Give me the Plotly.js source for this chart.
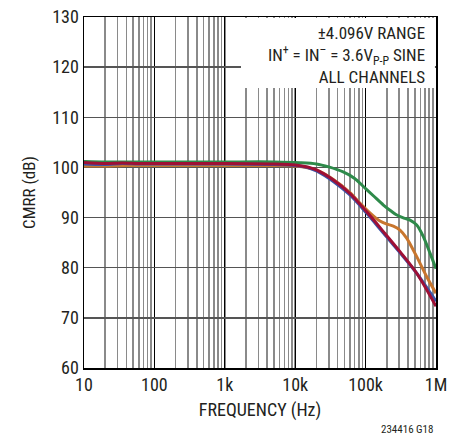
<!DOCTYPE html>
<html>
<head>
<meta charset="utf-8">
<script src="https://cdn.plot.ly/plotly-3.0.1.min.js"></script>
<style>
  html, body { margin: 0; padding: 0; background: #fff; }
  #chart { width: 460px; height: 436px; }
</style>
</head>
<body>
<div id="chart"></div>
<script>
// ---- data ----
const tickVals = [10, 100, 1000, 10000, 100000, 1000000];
const tickText = ["10", "100", "1k", "10k", "100k", "1M"];
const noteLines = ['±4.096V RANGE', 'IN<sup>+</sup> = IN<sup>–</sup> = 3.6V<sub>P-P</sub> SINE', 'ALL CHANNELS'];

const greenFreq = [10, 20, 40, 100, 1000, 5000, 11700, 20000, 30000, 48000, 70000, 93000, 130000, 179000, 230000, 277000, 350000, 428000, 532000, 661000, 822000, 1000000];
const greenCmrr = [101.2, 101.1, 101.1, 101.1, 101.1, 101.1, 100.95, 100.7, 100.1, 99.1, 97.8, 96.2, 94.3, 92.5, 91.3, 90.5, 89.9, 89.5, 88.5, 86.2, 82.9, 79.8];

const redFreq = [10, 20, 35, 60, 100, 1000, 5000, 10000, 15000, 20000, 34800, 60000, 103000, 179000, 308000, 532000, 1000000];
const redCmrr = [101.0, 100.8, 100.9, 100.8, 100.8, 100.8, 100.7, 100.5, 100.1, 99.5, 97.5, 94.8, 91.2, 87.2, 83.2, 78.9, 72.3];

const blueFreq = [10, 20, 35, 60, 100, 1000, 5000, 10000, 15000, 20000, 34800, 60000, 103000, 179000, 308000, 532000, 1000000];
const blueCmrr = [100.7, 100.6, 100.8, 100.7, 100.7, 100.7, 100.6, 100.4, 100.0, 99.3, 97.2, 94.5, 90.9, 86.9, 83.0, 78.9, 73.3];

const orangeFreq = [10, 20, 40, 100, 1000, 5000, 10000, 20000, 34800, 60000, 83000, 116000, 160000, 200000, 248000, 308000, 383000, 532000, 738000, 1000000];
const orangeCmrr = [100.3, 100.3, 100.4, 100.4, 100.4, 100.4, 100.3, 99.5, 97.6, 95.0, 92.9, 90.9, 89.3, 88.7, 88.3, 87.5, 85.9, 82.2, 78.2, 74.9];

const FONT = "'Liberation Sans Narrow', 'Arial Narrow', 'Roboto Condensed', 'Liberation Sans', sans-serif";
const INK = '#231f20';

function line(x, y, color) {
  return { x: x, y: y, type: 'scatter', mode: 'lines',
           line: { color: color, width: 3, shape: 'spline', smoothing: 0.8 },
           hoverinfo: 'skip', showlegend: false };
}

const data = [
  line(orangeFreq, orangeCmrr, '#c8762e'),
  line(greenFreq, greenCmrr, '#2e8a4a'),
  line(blueFreq, blueCmrr, '#3a55a8'),
  line(redFreq, redCmrr, '#9e1035')
];

const layout = {
  width: 460, height: 436,
  margin: { l: 84, r: 24, t: 17, b: 68, pad: 0 },
  paper_bgcolor: '#fff', plot_bgcolor: '#fff',
  font: { family: FONT, size: 18, color: INK },
  xaxis: {
    type: 'log', range: [1, 6],
    tickvals: tickVals, ticktext: tickText,
    ticks: '', showline: true, mirror: true, linecolor: '#000', linewidth: 1.5,
    showgrid: true, gridcolor: '#000', gridwidth: 1,
    minor: { dtick: 'D1', showgrid: true, gridcolor: '#8a8a8a', gridwidth: 1.5, ticks: '' },
    zeroline: false,
    tickfont: { family: FONT, size: 18, color: INK },
    title: { text: 'FREQUENCY (Hz)', font: { family: FONT, size: 18, color: INK }, standoff: 9 }
  },
  yaxis: {
    range: [60, 130], dtick: 10, tick0: 60,
    ticks: '', showline: true, mirror: true, linecolor: '#000', linewidth: 1.5,
    showgrid: true, gridcolor: '#555', gridwidth: 1.5,
    zeroline: false,
    tickfont: { family: FONT, size: 18, color: INK },
    title: { text: 'CMRR (dB)', font: { family: FONT, size: 17, color: INK }, standoff: 12 }
  },
  shapes: [
    { type: 'rect', xref: 'x domain', yref: 'y domain', x0: 0.446, x1: 0.997, y0: 0.798, y1: 0.997,
      fillcolor: '#fff', line: { width: 0 }, layer: 'above' }
  ],
  annotations: [
    { xref: 'paper', yref: 'paper', x: 0.975, y: 0.892, xanchor: 'right', yanchor: 'middle',
      showarrow: false, align: 'right',
      text: noteLines.join('<br>'), font: { family: FONT, size: 17, color: INK } },
    { xref: 'paper', yref: 'paper', x: 0.997, y: -0.15, xanchor: 'right', yanchor: 'top',
      showarrow: false, text: '234416 G18', font: { family: FONT, size: 11, color: INK } }
  ]
};

Plotly.newPlot('chart', data, layout, { displayModeBar: false, staticPlot: true });
</script>
</body>
</html>
